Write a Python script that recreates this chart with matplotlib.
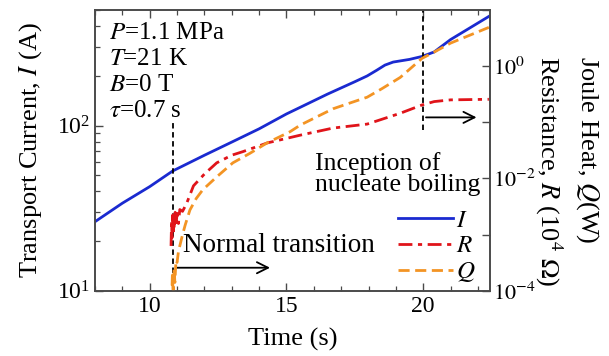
import numpy as np
import matplotlib
matplotlib.use("Agg")
import matplotlib.pyplot as plt
from matplotlib.ticker import LogLocator, NullFormatter, MultipleLocator, FuncFormatter
from matplotlib.lines import Line2D

plt.rcParams['font.family'] = ['Liberation Serif', 'DejaVu Serif']
plt.rcParams['mathtext.fontset'] = 'stix'

# transport current I (A)
t_I = [8.0, 9.0, 10.0, 10.84, 12.0, 13.0, 14.0, 15.0, 15.5, 16.5, 17.5, 17.95,
       18.3, 18.6, 18.9, 19.5, 19.96, 20.4, 21.0, 21.7, 22.4]
I_val = [26.2, 33.9, 42.7, 53.1, 66.1, 79.4, 95.5, 117.5, 128.8, 154.9, 184.1, 199.5,
         216.0, 232.0, 242.0, 251.2, 261.8, 278.6, 331.1, 389.0, 457.1]

# resistance R (10^4 ohm)
t_R = [10.78, 10.80, 10.82, 10.84, 10.86, 10.88, 10.90, 10.93, 10.96, 11.0, 11.05, 11.1,
       11.2, 11.35, 11.6, 12.0, 12.45, 13.0, 13.4, 14.3, 15.5, 16.7, 17.95, 19.16,
       19.96, 20.4, 21.0, 22.4]
R_val = [6.3e-4, 1.78e-3, 8.9e-4, 2.24e-3, 1.0e-3, 2.0e-3, 1.26e-3, 2.5e-3, 1.41e-3, 2.4e-3,
         1.58e-3, 2.8e-3, 2.6e-3, 3.6e-3, 7.4e-3, 0.012, 0.019, 0.026, 0.030, 0.043, 0.059,
         0.079, 0.093, 0.145, 0.204, 0.234, 0.251, 0.257]

# joule heat Q (W)
t_Q = [10.80, 10.83, 10.86, 10.89, 10.92, 10.96, 11.0, 11.05, 11.1, 11.2, 11.3, 11.47,
       11.7, 11.94, 12.45, 13.04, 13.66, 14.29, 15.13, 15.5, 16.12, 16.7, 17.3, 17.95,
       18.5, 19.16, 19.96, 20.4, 21.0, 21.7, 22.4]
Q_val = [6.3e-5, 2.0e-4, 7.9e-5, 2.5e-4, 1.41e-4, 3.5e-4, 3.2e-4, 5.0e-4, 6.3e-4, 1.0e-3,
         1.5e-3, 2.75e-3, 4.4e-3, 6.3e-3, 0.0107, 0.019, 0.028, 0.043, 0.068, 0.089,
         0.126, 0.174, 0.219, 0.28, 0.40, 0.63, 1.38, 1.78, 2.57, 3.55, 4.9]

t_normal = 10.85      # normal transition
t_boil = 20.0         # inception of nucleate boiling

c_I = '#1a2ad0'
c_R = '#e0141a'
c_Q = '#f39424'
c_ax = '#4a4a4a'


def style_axis(ax):
    for s in ax.spines.values():
        s.set_color(c_ax)
        s.set_linewidth(1.2)
    ax.tick_params(which='both', direction='in', colors=c_ax, labelcolor='black',
                   labelsize=17)
    ax.tick_params(which='major', length=6, width=1.0)
    ax.tick_params(which='minor', length=3.5, width=0.9)


def main():
    fig = plt.figure(figsize=(6.09, 3.56), dpi=100)
    ax = fig.add_axes([0.156, 0.183, 0.649, 0.789])
    ax2 = ax.twinx()

    ax.plot(t_I, I_val, '-', color=c_I, linewidth=2)
    ax2.plot(t_R, R_val, '-.', color=c_R, linewidth=2, dashes=(5, 2, 1.5, 2))
    ax2.plot(t_Q, Q_val, '--', color=c_Q, linewidth=2, dashes=(4, 2))

    ax.set_xlim(8, 22.45)
    ax.set_yscale('log')
    ax.set_ylim(10, 500)
    ax2.set_yscale('log')
    ax2.set_ylim(1e-4, 10)

    # markers for the two events
    ax.plot([t_normal, t_normal], [10, 104], '--', color='black', linewidth=1.3, dashes=(3, 2))
    ax.plot([t_boil, t_boil], [94.6, 500], '--', color='black', linewidth=1.3, dashes=(3, 2))
    ax.annotate('', xy=(14.5, 13.8), xytext=(t_normal, 13.8),
                arrowprops=dict(arrowstyle='->', color='black', lw=1.3, mutation_scale=20))
    ax.annotate('', xy=(22.05, 112), xytext=(t_boil, 112),
                arrowprops=dict(arrowstyle='->', color='black', lw=1.3, mutation_scale=20))

    ax.text(11.2, 18.7, 'Normal transition', fontsize=19.5, va='center', ha='left')
    ax.text(16.05, 51, 'Inception of\nnucleate boiling', fontsize=18.5, va='center', ha='left',
            linespacing=0.95)

    cond = ['$P$=1.1 MPa', '$T$=21 K', '$B$=0 T', r'$\tau$=0.7 s']
    for i, s in enumerate(cond):
        ax.text(0.035, 0.918 - i * 0.0925, s, transform=ax.transAxes, fontsize=18,
                va='center', ha='left')

    ax.xaxis.set_major_locator(MultipleLocator(5))
    ax.xaxis.set_minor_locator(MultipleLocator(1))
    ax.yaxis.set_major_locator(LogLocator(base=10))
    ax.yaxis.set_minor_locator(LogLocator(base=10, subs=np.arange(2, 10)))
    ax.yaxis.set_minor_formatter(NullFormatter())
    ax.tick_params(top=True, which='both')

    ax2.yaxis.set_major_locator(LogLocator(base=10, numticks=20))
    ax2.yaxis.set_minor_locator(LogLocator(base=10, subs=[]))
    ax2.yaxis.set_minor_formatter(NullFormatter())

    def even_dec(v, pos):
        e = int(round(np.log10(v)))
        return '$10^{%d}$' % e if e % 2 == 0 else ''
    ax2.yaxis.set_major_formatter(FuncFormatter(even_dec))

    style_axis(ax)
    style_axis(ax2)
    ax2.tick_params(labelsize=16, pad=2)

    ax.set_xlabel('Time (s)', fontsize=19, labelpad=8)
    ax.set_ylabel('Transport Current, $I$ (A)', fontsize=19, labelpad=9)
    fig.text(0.9, 0.52, 'Resistance, $R$ (10$^4$ $\\Omega$)', fontsize=19, rotation=270,
             va='center', ha='center')
    fig.text(0.965, 0.579, 'Joule Heat, $Q$(W)', fontsize=19, rotation=270,
             va='center', ha='center')

    handles = [Line2D([], [], color=c_I, lw=2, ls='-'),
               Line2D([], [], color=c_R, lw=2, ls='-.', dashes=(5, 2, 1.5, 2)),
               Line2D([], [], color=c_Q, lw=2, ls='--', dashes=(4, 2))]
    ax2.legend(handles, ['$I$', '$R$', '$Q$'], loc='lower right', bbox_to_anchor=(1.0, -0.03),
               frameon=False, fontsize=18, handlelength=2.2, handletextpad=0.1,
               labelspacing=0.12, borderaxespad=0.2)

    fig.savefig('out.png', dpi=100)


if __name__ == "__main__":
    main()
